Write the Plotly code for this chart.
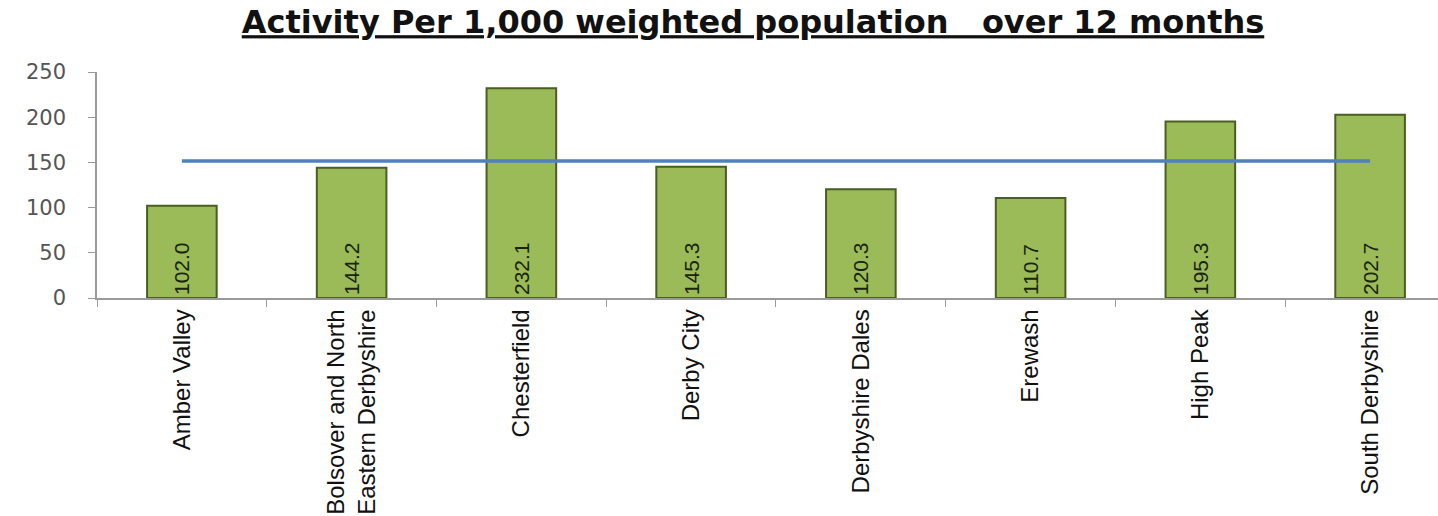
import plotly.graph_objects as go

# Activity per 1,000 weighted population, by locality
areas = [
    "Amber Valley",
    "Bolsover and North<br>Eastern Derbyshire",
    "Chesterfield",
    "Derby City",
    "Derbyshire Dales",
    "Erewash",
    "High Peak",
    "South Derbyshire",
]
activity = [102.0, 144.2, 232.1, 145.3, 120.3, 110.7, 195.3, 202.7]
average_line = [151.5] * len(areas)
y_ticks = [0, 50, 100, 150, 200, 250]

fig = go.Figure()

fig.add_trace(go.Bar(
    x=areas,
    y=activity,
    width=0.41,
    marker=dict(color="#9BBB59", line=dict(color="#4A5E22", width=2)),
    text=[f"{v:.1f}" for v in activity],
    textposition="inside",
    insidetextanchor="start",
    textangle=-90,
    constraintext="none",
    textfont=dict(family="Liberation Sans Narrow, Arial Narrow, sans-serif", size=21, color="#1a240a"),
    showlegend=False,
))

fig.add_trace(go.Scatter(
    x=areas,
    y=average_line,
    mode="lines",
    line=dict(color="#4F81BD", width=3.5),
    showlegend=False,
))

fig.update_layout(
    width=1438,
    height=516,
    margin=dict(l=97, r=0, t=72, b=218, autoexpand=False),
    paper_bgcolor="white",
    plot_bgcolor="white",
    title=dict(
        text="<b><u>Activity Per 1,000 weighted population   over 12 months</u></b>",
        x=753 / 1438,
        xanchor="center",
        xref="container",
        y=1 - 22 / 516,
        yanchor="middle",
        yref="container",
        font=dict(family="DejaVu Sans", size=32, color="#111111"),
    ),
    xaxis=dict(
        range=[-0.5, 7.4],
        automargin=False,
        tickangle=-90,
        tickson="boundaries",
        ticks="outside",
        ticklen=7,
        tickcolor="#9a9a9a",
        showline=True,
        linecolor="#9a9a9a",
        linewidth=1.5,
        showgrid=False,
        tickfont=dict(family="Liberation Sans Narrow, Arial Narrow, sans-serif", size=24, color="#111111"),
    ),
    yaxis=dict(
        range=[0, 250],
        automargin=False,
        tickvals=y_ticks,
        ticks="outside",
        ticklen=7,
        tickcolor="#9a9a9a",
        showline=True,
        linecolor="#9a9a9a",
        linewidth=1.5,
        showgrid=False,
        zeroline=False,
        ticklabelstandoff=18,
        tickfont=dict(family="DejaVu Sans", size=21, color="#555555"),
    ),
)

fig.write_html("out.html")
